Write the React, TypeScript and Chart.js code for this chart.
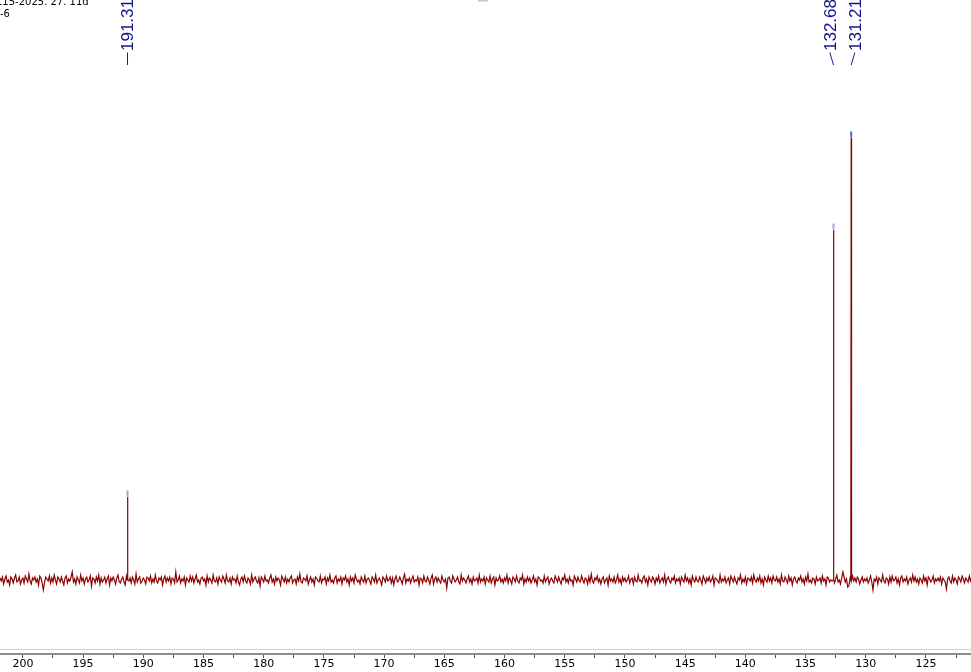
import React, { useEffect, useRef } from "react";
import { Chart, registerables } from "chart.js";

Chart.register(...registerables);

// ---- axis ----
const axisMin = 121.26;
const axisMax = 201.9;
const tickStep = 2.5;
const labelStep = 5;

// ---- peaks (ppm, relative intensity) ----
const peakPpm = [191.31, 132.68, 131.21];
const peakHeight = [83, 350, 442];
const peakLabels = ["191.31", "132.68", "131.21"];
const markerColors = ["#a4a4e2", "#a4a4e2", "#5a64c8"];

// ---- baseline noise, read along the spectrum from 201.9 ppm in 0.1 ppm steps ----
const noiseStart = 201.9;
const noiseStep = 0.1;
const noise = [
  2, -1, 3, -4, 1, 4, -2, 0, -5, 3, 1, -3, 2, 5, -2, -1, 3, -4, 0, 2,
  -3, 4, 1, -2, 6, -1, -4, 2, 0, 3, -2, 1, -5, 4, 2, -3, -10, -2, 3, 1,
  -1, 4, -3, 2, -2, 5, 0, -4, 3, 1, -2, 3, -1, -5, 2, 4, -3, 1, -1, 3,
  8, -2, 1, -4, 3, 0, -3, 5, -1, 2, -4, 1, 3, -2, 0, 4, -6, 2, 1, -3,
  3, -1, 5, -4, 2, -2, 0, 3, -3, 1, 4, -5, 2, -1, 3, 0, -4, 2, 5, -2,
  -3, 1, 3, -2, -5, 4, 1, -1, 2, -3, 3, 0, -4, 6, -2, 1, 3, -3, -1, 2,
  0, -4, 3, 2, -1, 4, -3, 1, -2, 5, -1, -3, 2, 0, 3, -5, 1, 4, -2, 2,
  -1, 3, -4, 2, 1, -3, 8, -2, 0, 4, -3, 1, -1, 3, -5, 2, 0, -2, 4, -1,
  3, -3, 1, 5, -2, 0, -4, 2, 3, -1, 1, -5, 4, -2, 2, 0, -3, 5, -1, -2,
  2, -4, 3, 0, -2, 4, 1, -3, 5, -1, -2, 2, -4, 3, 0, 1, -3, 4, -2, -5,
  1, 3, -2, 4, -1, -3, 2, 0, -4, 5, -2, 1, 3, -1, -3, 2, -6, 3, 1, -2,
  4, -1, 0, -3, 2, 5, -2, 1, -4, 3, -1, 2, 0, -5, 4, 1, -2, 3, -3, 1,
  -2, 2, 4, -3, 0, 1, -4, 3, -1, 6, -2, -3, 2, 1, -1, 4, -4, 0, 3, -2,
  1, -5, 3, 2, -1, -2, 4, -3, 1, 0, 3, -4, 2, -1, 5, -2, 0, -3, 2, 4,
  -3, 1, -1, 3, -4, 2, 0, 4, -2, 1, -5, 3, -1, 2, -3, 5, 1, -2, 0, -4,
  3, 0, -2, 4, -3, 1, 2, -1, -4, 3, 1, -2, 5, -3, 0, 2, -1, -5, 3, 1,
  -2, 4, -1, 0, 3, -3, 2, -5, 1, 4, -2, -1, 3, 0, -4, 2, 6, -3, 1, -1,
  2, -3, 1, 4, -2, 0, -1, 3, -5, 2, 1, -3, 4, -1, -2, 3, 0, -4, 2, 5,
  -4, 1, 3, -2, 2, -1, -3, 4, 0, -2, 1, -8, 2, 3, -1, -3, 4, 1, -2, 0,
  3, -2, -4, 5, -1, 2, 0, -3, 1, 4, -2, 1, -4, 3, -1, 0, 2, -3, 5, -2,
  1, -1, 3, -4, 2, 0, -2, 4, -3, 1, 3, -5, 2, -1, 0, 4, -2, 1, -3, 2,
  -1, 5, -3, 2, 0, -4, 3, 1, -2, 4, -1, -3, 2, 0, 5, -4, 1, -2, 3, -1,
  2, -3, 0, 4, -2, 1, -5, 3, 2, -1, 0, -3, 4, -2, 1, 3, -4, 0, 2, -1,
  -3, 4, 1, -2, 3, -1, -4, 2, 0, 5, -2, 1, -3, 3, -1, 0, -5, 4, 1, -2,
  3, -1, -2, 4, 0, -3, 2, 1, -4, 3, -2, 6, -1, -3, 2, 0, 4, -2, 1, -4,
  1, 3, -3, 0, 2, -5, 4, -1, 1, -2, 3, -3, 0, 5, -2, 1, -4, 3, -1, 2,
  -2, 0, 4, -3, 1, 2, -4, 3, -1, -2, 5, -1, 0, -3, 2, 4, -2, 1, -5, 3,
  0, -2, 3, 1, -4, 2, -1, 4, -3, 0, 2, -2, 5, -4, 1, 3, -1, -3, 2, 0,
  4, -3, 1, -1, 2, -4, 3, 0, -2, 5, -1, 2, -3, 1, -5, 4, 0, -2, 3, -1,
  -2, 3, 0, -4, 4, 1, -3, 2, -1, 3, -2, 0, 4, -5, 2, 1, -1, -3, 5, -2,
  1, -1, 3, -3, 0, 2, -4, 4, 1, -2, 3, -1, -4, 2, 0, 5, -3, 1, -2, 3,
  -4, 2, 1, -1, 3, -3, 5, 0, -2, 2, -1, 4, -3, 1, -5, 3, 0, -2, 4, -1,
  2, -3, 4, 0, -1, 3, -2, 1, -4, 5, -1, -2, 3, 0, -3, 4, -1, 2, -5, 1,
  3, -1, -3, 2, 0, 4, -2, 1, -4, 3, -1, 6, -2, 0, -3, 2, 1, -4, 3, -1,
  0, 2, -3, 4, -1, 1, -5, 3, 2, -2, 0, -1, 4, -3, 1, 5, -2, 0, -4, 2,
  8, 3, -2, 1, -7, -6, 2, -3, 4, -1, 2, -2, 3, 1, -4, 0, 3, -2, 1, -1,
  2, -3, 0, 4, -2, -10, 1, -1, 3, -4, 2, 0, -2, 5, -1, -3, 2, 1, -4, 3,
  -2, 4, -1, 0, 3, -3, 1, -5, 2, 4, -2, 1, -1, 3, -4, 0, 2, -2, 5, -1,
  3, -2, 1, -4, 2, 0, -3, 4, -1, 2, -5, 3, 1, -2, 0, 4, -3, 1, -1, 2,
  -1, 3, -4, 2, 0, -2, -9, 1, 3, -1, -3, 4, -2, 2, 0, -4, 3, 1, -2, 4,
  1, -3, 2, 0, -2, 4, -1, 3, -4, 1, 2, -2, 0, 3, -1, -3, 5, -2, 1, 0,
];

// ---- header text (clipped at top-left) ----
const headerLines = ["115-2025. 27. 11d", "-6"];

function buildSpectrum() {
  const pts: { x: number; y: number }[] = [];
  noise.forEach((v, i) => {
    const x = +(noiseStart - i * noiseStep).toFixed(3);
    if (peakPpm.some((p) => Math.abs(x - p) < 0.06)) return;
    pts.push({ x, y: v });
  });
  peakPpm.forEach((p, i) => {
    pts.push({ x: p + 0.03, y: 0 }, { x: p, y: peakHeight[i] }, { x: p - 0.03, y: 0 });
  });
  pts.sort((a, b) => b.x - a.x);
  return pts;
}

const overlayPlugin = {
  id: "nmrOverlay",
  afterDraw(chart: any) {
    const ctx = chart.ctx as CanvasRenderingContext2D;
    const xs = chart.scales.x;
    const area = chart.chartArea;
    ctx.save();

    // light guide line above the axis
    ctx.strokeStyle = "#cfcfcf";
    ctx.lineWidth = 1;
    ctx.beginPath();
    ctx.moveTo(0, area.bottom - 4.5);
    ctx.lineTo(chart.width, area.bottom - 4.5);
    ctx.stroke();

    // header text
    ctx.fillStyle = "#000";
    ctx.font = '10px "DejaVu Sans"';
    ctx.textAlign = "left";
    ctx.textBaseline = "alphabetic";
    ctx.fillText(headerLines[0], -4, 5);
    ctx.fillText(headerLines[1], 0, 17);

    // small gray mark at top centre
    ctx.fillStyle = "#c8c8c8";
    ctx.fillRect(478, 0, 10, 1.5);

    // peak labels, spread apart where peaks are close
    const px = peakPpm.map((p) => xs.getPixelForValue(p));
    const order = px.map((_, i) => i).sort((a, b) => px[a] - px[b]);
    const gap = 25;
    const lx: number[] = new Array(px.length);
    let k = 0;
    while (k < order.length) {
      let j = k;
      while (j + 1 < order.length && px[order[j + 1]] - px[order[j]] < gap) j++;
      const n = j - k + 1;
      let mean = 0;
      for (let m = k; m <= j; m++) mean += px[order[m]];
      mean /= n;
      for (let m = k; m <= j; m++) lx[order[m]] = mean + (m - k - (n - 1) / 2) * gap;
      k = j + 1;
    }

    ctx.strokeStyle = "#1a1a90";
    ctx.fillStyle = "#12128a";
    ctx.lineWidth = 1;
    ctx.font = '17px "Liberation Sans"';
    peakLabels.forEach((lab, i) => {
      ctx.beginPath();
      ctx.moveTo(lx[i], 52.5);
      ctx.lineTo(px[i], 65);
      ctx.stroke();
      ctx.save();
      ctx.translate(lx[i] + 1, 51);
      ctx.rotate(-Math.PI / 2);
      ctx.textAlign = "left";
      ctx.textBaseline = "middle";
      ctx.fillText(lab, 0, 0);
      ctx.restore();
    });

    ctx.restore();
  },
};

export default function App() {
  const ref = useRef<HTMLCanvasElement | null>(null);

  useEffect(() => {
    if (!ref.current) return;
    const spectrum = buildSpectrum();
    const markers = peakPpm.map((p, i) => ({ x: p, y: peakHeight[i] + 3.5 }));
    const chart = new Chart(ref.current, {
      type: "line",
      data: {
        datasets: [
          {
            data: spectrum,
            borderColor: "#8b0000",
            borderWidth: 1.2,
            pointRadius: 0,
            tension: 0,
            fill: false,
            order: 2,
          } as any,
          {
            type: "scatter",
            data: markers,
            pointStyle: "line",
            rotation: 90,
            radius: 3,
            borderWidth: 2,
            borderColor: markerColors,
            backgroundColor: markerColors,
            order: 1,
          } as any,
        ],
      },
      options: {
        animation: false,
        responsive: false,
        maintainAspectRatio: false,
        events: [],
        layout: { padding: 0, autoPadding: false },
        plugins: { legend: { display: false }, tooltip: { enabled: false }, title: { display: false } },
        scales: {
          x: {
            type: "linear",
            reverse: true,
            min: axisMin,
            max: axisMax,
            afterFit(s: any) {
              s.height = 18;
              s.paddingLeft = 0;
              s.paddingRight = 0;
            },
            border: { display: true, color: "#8c8c8c", width: 2 },
            grid: { drawOnChartArea: false, drawTicks: true, tickLength: 4, color: "#505050", lineWidth: 1 },
            ticks: {
              stepSize: tickStep,
              includeBounds: false,
              autoSkip: false,
              maxRotation: 0,
              minRotation: 0,
              padding: 0,
              color: "#000",
              font: { family: "DejaVu Sans", size: 11 },
              callback: (v: any) => (Math.abs(v / labelStep - Math.round(v / labelStep)) < 1e-6 ? String(v) : ""),
            },
          },
          y: { display: false, min: -74, max: 580 },
        },
      } as any,
      plugins: [overlayPlugin],
    });
    return () => chart.destroy();
  }, []);

  return (
    <div style={{ position: "fixed", left: 0, top: 0, width: 971, height: 672, background: "#fff" }}>
      <canvas ref={ref} width={971} height={672} style={{ display: "block" }} />
    </div>
  );
}
